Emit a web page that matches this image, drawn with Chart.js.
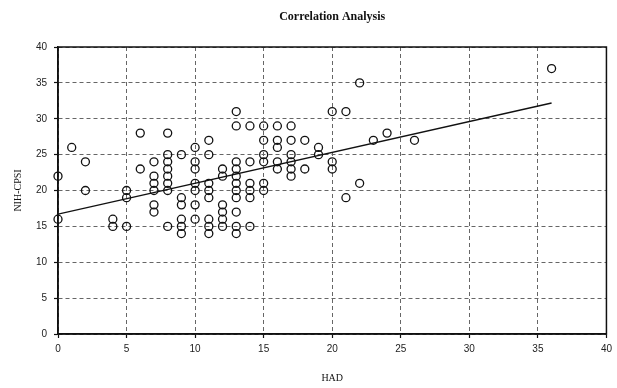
<!DOCTYPE html>
<html>
<head>
<meta charset="utf-8">
<title>Correlation Analysis</title>
<script src="https://cdn.jsdelivr.net/npm/chart.js@4/dist/chart.umd.min.js"></script>
<style>
  html, body { margin: 0; padding: 0; background: #fff; }
  #chart { display: block; }
</style>
</head>
<body>
<canvas id="chart" width="617" height="388"></canvas>
<script>
// HAD score of each patient (x)
const hadValues = [
  0, 0,
  1,
  2, 2,
  4, 4,
  5, 5, 5,
  6, 6,
  7, 7, 7, 7, 7, 7,
  8, 8, 8, 8, 8, 8, 8, 8,
  9, 9, 9, 9, 9, 9,
  10, 10, 10, 10, 10, 10, 10,
  11, 11, 11, 11, 11, 11, 11, 11,
  12, 12, 12, 12, 12, 12,
  13, 13, 13, 13, 13, 13, 13, 13, 13, 13, 13,
  14, 14, 14, 14, 14, 14,
  15, 15, 15, 15, 15, 15,
  16, 16, 16, 16, 16,
  17, 17, 17, 17, 17, 17,
  18, 18,
  19, 19,
  20, 20, 20,
  21, 21,
  22, 22,
  23,
  24,
  26,
  36
];

// NIH-CPSI score of each patient (y), same order as hadValues
const cpsiValues = [
  22, 16,
  26,
  24, 20,
  16, 15,
  20, 19, 15,
  28, 23,
  24, 22, 21, 20, 18, 17,
  28, 25, 24, 23, 22, 21, 20, 15,
  25, 19, 18, 16, 15, 14,
  26, 24, 23, 21, 20, 18, 16,
  27, 25, 21, 20, 19, 16, 15, 14,
  23, 22, 18, 17, 16, 15,
  31, 29, 24, 23, 22, 21, 20, 19, 17, 15, 14,
  29, 24, 21, 20, 19, 15,
  29, 27, 25, 24, 21, 20,
  29, 27, 26, 24, 23,
  29, 27, 25, 24, 23, 22,
  27, 23,
  26, 25,
  31, 24, 23,
  31, 19,
  35, 21,
  27,
  28,
  27,
  37
];

// trend line end points
const trendX = [0, 36];
const trendY = [16.7, 32.2];

const axisTicks = [0, 5, 10, 15, 20, 25, 30, 35, 40];

const punkty = hadValues.map((x, i) => ({ x: x, y: cpsiValues[i] }));
const linia = trendX.map((x, i) => ({ x: x, y: trendY[i] }));

// ramka wokol obszaru wykresu (gora i prawa strona)
const ramka = {
  id: "ramka",
  beforeDatasetsDraw(chart) {
    const { ctx, chartArea } = chart;
    ctx.save();
    ctx.strokeStyle = "#111";
    ctx.lineWidth = 1.5;
    ctx.strokeRect(chartArea.left, chartArea.top,
      chartArea.right - chartArea.left, chartArea.bottom - chartArea.top);
    ctx.restore();
  }
};

const siatka = {
  color: "#666",
  lineWidth: 1,
  tickColor: "#111",
  tickLength: 4,
  tickWidth: 1.2
};

new Chart(document.getElementById("chart"), {
  type: "scatter",
  data: {
    datasets: [
      {
        label: "Patients",
        data: punkty,
        clip: false,
        pointRadius: 4,
        pointBorderWidth: 1.3,
        pointBorderColor: "#111",
        pointBackgroundColor: "rgba(0,0,0,0)",
        showLine: false
      },
      {
        label: "Trend",
        type: "line",
        data: linia,
        borderColor: "#111",
        borderWidth: 1.4,
        pointRadius: 0,
        fill: false
      }
    ]
  },
  plugins: [ramka],
  options: {
    responsive: false,
    animation: false,
    layout: { padding: { left: 0, right: 5, top: 0, bottom: 0 } },
    plugins: {
      legend: { display: false },
      tooltip: { enabled: false },
      title: {
        display: true,
        text: "Correlation Analysis",
        fullSize: false,
        color: "#111",
        font: { family: "Liberation Serif", size: 12, weight: "bold" },
        padding: { top: 10, bottom: 22.6 }
      }
    },
    scales: {
      x: {
        type: "linear",
        min: 0,
        max: 40,
        afterBuildTicks: s => { s.ticks = axisTicks.map(v => ({ value: v })); },
        afterFit: s => { s.height = 54; },
        grid: siatka,
        border: { display: true, color: "#111", width: 1.5, dash: [4, 3] },
        ticks: {
          color: "#222",
          padding: 5,
          font: { family: "Liberation Sans", size: 10 }
        },
        title: {
          display: true,
          text: "HAD",
          color: "#111",
          font: { family: "Liberation Serif", size: 10 },
          padding: { top: 0, bottom: 4 }
        }
      },
      y: {
        type: "linear",
        min: 0,
        max: 40,
        afterBuildTicks: s => { s.ticks = axisTicks.map(v => ({ value: v })); },
        afterFit: s => { s.width = 58; },
        grid: siatka,
        border: { display: true, color: "#111", width: 1.5, dash: [4, 3] },
        ticks: {
          color: "#222",
          padding: 7,
          font: { family: "Liberation Sans", size: 10 }
        },
        title: {
          display: true,
          text: "NIH-CPSI",
          color: "#111",
          font: { family: "Liberation Serif", size: 10 },
          padding: { top: 12, bottom: 0 }
        }
      }
    }
  }
});
</script>
</body>
</html>
